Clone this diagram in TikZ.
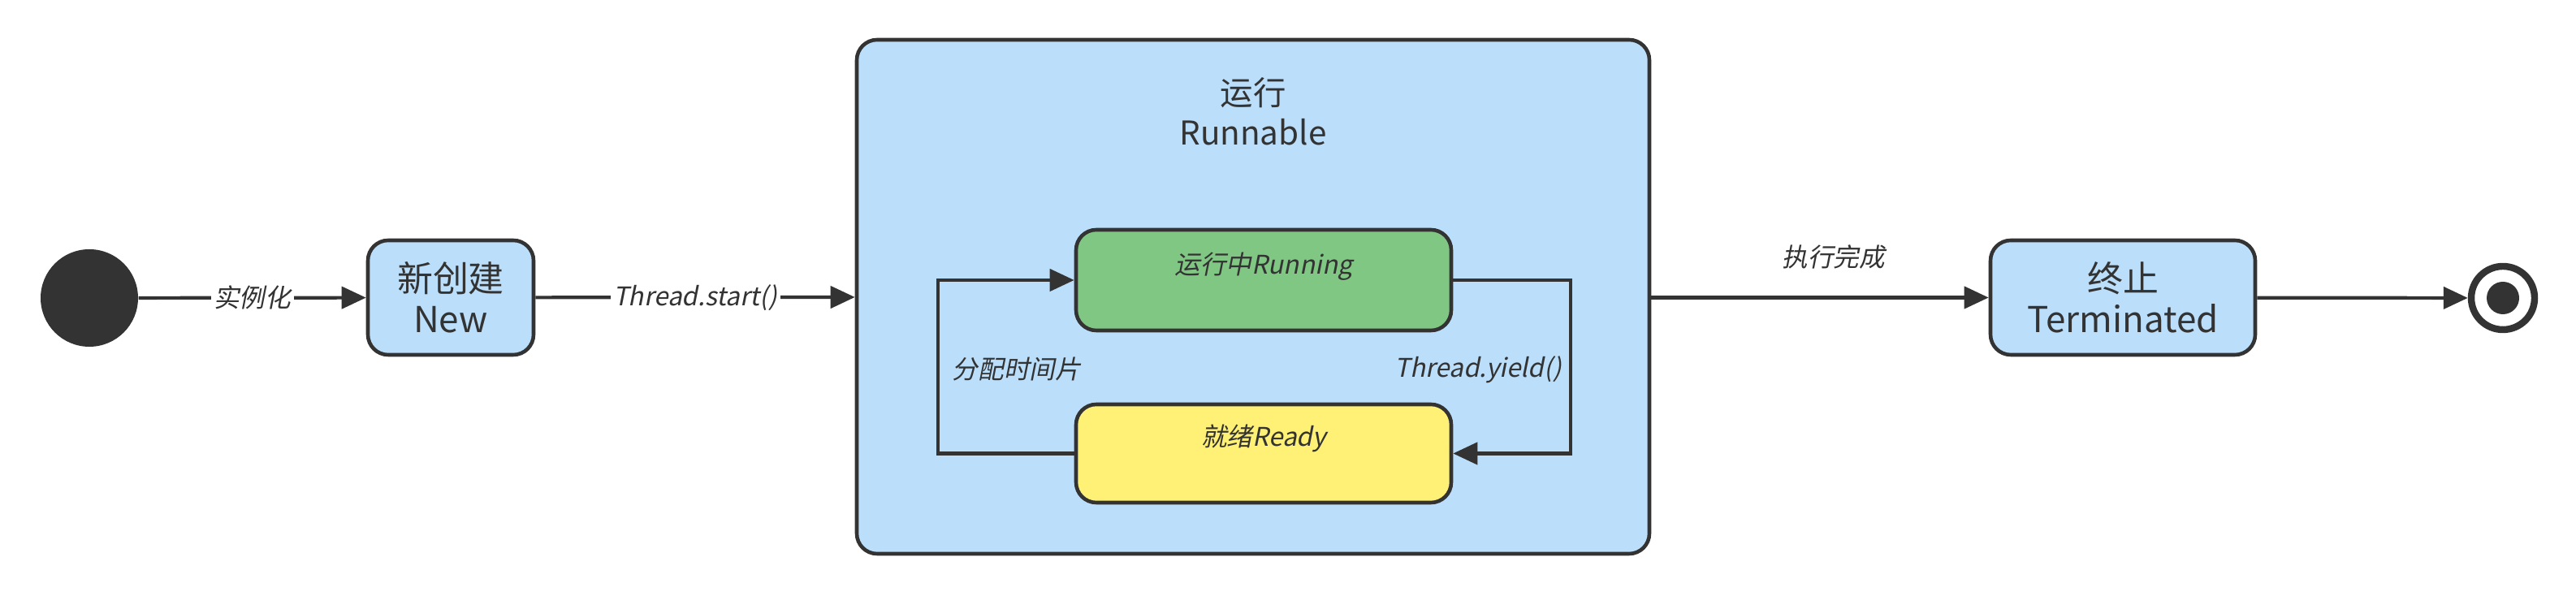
\documentclass[tikz,border=0pt]{standalone}
\usepackage{fontspec}
\setmainfont{Noto Sans CJK SC}
\newfontfamily\slfont[FakeSlant=0.2]{Noto Sans CJK SC}
\usetikzlibrary{arrows.meta}
\definecolor{stateblue}{HTML}{BBDEFA}
\definecolor{stategreen}{HTML}{81C784}
\definecolor{stateyellow}{HTML}{FFF176}
\definecolor{linegray}{HTML}{333333}
\tikzset{
  state/.style={draw=linegray, line width=1.3pt, rounded corners=0.25cm,
    fill=stateblue, align=center, inner sep=0pt, text=linegray,
    font=\fontsize{12.5}{14.2}\selectfont},
  trans/.style={draw=linegray, line width=1.2pt,
    -{Triangle[length=0.30cm,width=0.27cm]}},
  lbl/.style={font=\slfont\fontsize{9}{11}\selectfont, text=linegray, inner sep=1pt},
}

\begin{document}
\begin{tikzpicture}
  \useasboundingbox (0,0) rectangle (31.72,7.34);
  % start and end points
  \node[circle, fill=linegray, minimum size=1.2cm, inner sep=0pt] (start) at (1.10,3.67) {};
  \node[circle, draw=linegray, line width=2.4pt, fill=white, minimum size=0.78cm, inner sep=0pt] (end) at (30.82,3.67) {};
  \node[circle, fill=linegray, minimum size=0.40cm, inner sep=0pt] (enddot) at (30.82,3.67) {};
  % outer states
  \node[state, minimum width=2.04cm, minimum height=1.41cm] (new) at (5.55,3.675) {新创建\\New};
  \node[state, minimum width=9.76cm, minimum height=6.33cm] (runnable) at (15.43,3.685) {};
  \node[align=center, text=linegray, font=\fontsize{11.5}{14}\selectfont] (runtitle) at (15.43,5.97) {运行\\Runnable};
  \node[state, minimum width=3.26cm, minimum height=1.41cm] (term) at (26.14,3.675) {终止\\Terminated};
  % inner states
  \node[state, fill=stategreen, minimum width=4.62cm, minimum height=1.24cm] (run) at (15.56,3.89) {};
  \node[lbl] (runtext) at (15.56,4.06) {运行中Running};
  \node[state, fill=stateyellow, minimum width=4.62cm, minimum height=1.21cm] (ready) at (15.56,1.755) {};
  \node[lbl] (readytext) at (15.56,1.94) {就绪Ready};
  % transitions
  \draw[trans] (start) -- (new) node[lbl, midway, fill=white] {实例化};
  \draw[trans] (new) -- (runnable) node[lbl, midway, fill=white] {Thread.start()};
  \draw[trans] (runnable.east |- term.west) -- (term.west) node[lbl, pos=0.54, above=0.3cm] {执行完成};
  \draw[trans] (term) -- (end);
  \draw[trans] (ready.west) -- ++(-1.68,0) |- (run.west);
  \draw[trans] (run.east) -- ++(1.45,0) |- (ready.east);
  \node[lbl] (slice) at (12.52,2.79) {分配时间片};
  \node[lbl] (yield) at (18.20,2.79) {Thread.yield()};
\end{tikzpicture}
\end{document}
